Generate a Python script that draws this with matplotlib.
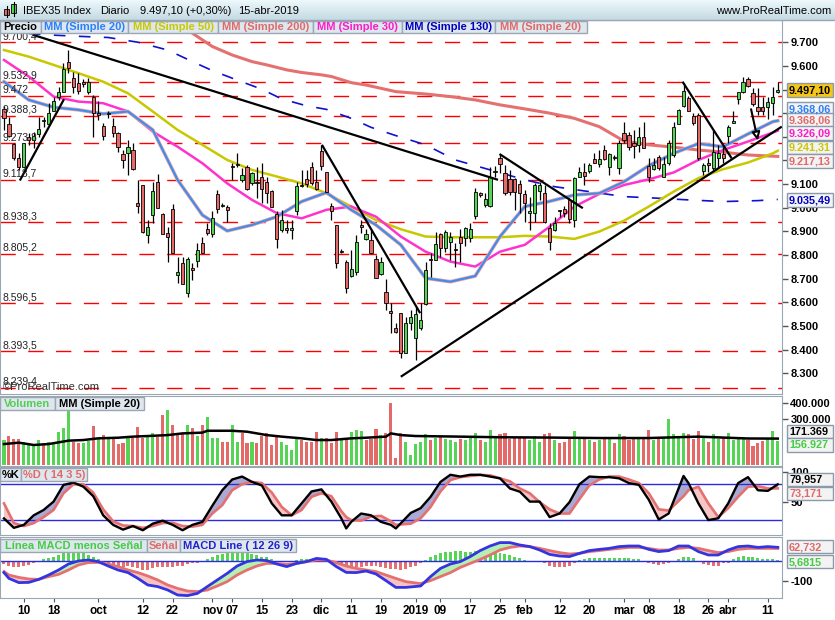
import numpy as np
import pandas as pd
import matplotlib
matplotlib.use('Agg')
import matplotlib.pyplot as plt
from matplotlib.patches import Rectangle
from matplotlib.colors import LinearSegmentedColormap

plt.rcParams['font.family'] = ['Liberation Sans', 'DejaVu Sans']

# ---------------- datos ----------------
festivos = ['2018-12-25', '2018-12-26', '2019-01-01']
dias = pd.bdate_range('2018-09-04', '2019-04-15')
dias = dias[~dias.isin(pd.to_datetime(festivos))]

apertura = [9416, 9353, 9268, 9209, 9174, 9301, 9287, 9312, 9366, 9353,
            9407, 9470, 9491, 9615, 9550, 9526, 9529, 9491, 9467, 9402,
            9347, 9400, 9347, 9315, 9226, 9230, 9244, 9019, 9095, 8885,
            8969, 9110, 8972, 8892, 8995, 8716, 8765, 8638, 8744, 8775,
            8850, 8912, 8889, 9057, 9008, 9002, 9177, 9181, 9118, 9174,
            9103, 9110, 9132, 9110, 9072, 8974, 8906, 8916, 8906, 8984,
            9096, 9120, 9174, 9110, 9240, 9150, 9008, 8927, 8818, 8769,
            8711, 8726, 8927, 8868, 8864, 8782, 8719, 8645, 8561, 8490,
            8554, 8384, 8511, 8448, 8493, 8593, 8782, 8779, 8888, 8829,
            8854, 8821, 8875, 8871, 8871, 8965, 9064, 9012, 9009, 9151,
            9209, 9146, 9120, 9120, 9101, 9058, 8979, 8979, 9072, 9061,
            8916, 8906, 8990, 8993, 9033, 8948, 9132, 9153, 9157, 9205,
            9185, 9242, 9171, 9216, 9167, 9315, 9308, 9275, 9266, 9301,
            9177, 9163, 9213, 9132, 9188, 9223, 9354, 9431, 9466, 9388,
            9392, 9157, 9191, 9167, 9209, 9226, 9304, 9360, 9459, 9488,
            9543, 9487, 9428, 9425, 9425, 9442, 9490]
maximo = [9431, 9383, 9273, 9230, 9275, 9315, 9322, 9385, 9385, 9442,
          9470, 9512, 9611, 9667, 9576, 9569, 9543, 9548, 9477, 9453,
          9357, 9407, 9378, 9322, 9244, 9287, 9273, 9118, 9096, 8948,
          9110, 9143, 8977, 8920, 9016, 8793, 8793, 8793, 8765, 8850,
          8878, 8934, 8984, 9075, 9019, 9012, 9188, 9233, 9167, 9181,
          9153, 9174, 9191, 9132, 9075, 8984, 8991, 8948, 8948, 9110,
          9160, 9160, 9195, 9160, 9266, 9153, 9019, 8927, 8825, 8779,
          8821, 8885, 8948, 8909, 8906, 8800, 8793, 8697, 8596, 8511,
          8556, 8539, 8568, 8582, 8596, 8772, 8807, 8899, 8895, 8906,
          8899, 8850, 8909, 8920, 8937, 9082, 9068, 9061, 9174, 9177,
          9227, 9181, 9160, 9125, 9118, 9075, 9047, 9106, 9110, 9096,
          8934, 8962, 8991, 9008, 9040, 9132, 9174, 9188, 9191, 9230,
          9242, 9266, 9230, 9223, 9287, 9364, 9322, 9329, 9343, 9364,
          9209, 9209, 9223, 9216, 9287, 9364, 9416, 9529, 9473, 9400,
          9400, 9188, 9209, 9329, 9266, 9258, 9350, 9407, 9491, 9552,
          9555, 9505, 9505, 9470, 9470, 9509, 9533]
minimo = [9329, 9301, 9200, 9160, 9167, 9266, 9252, 9301, 9343, 9350,
          9407, 9456, 9491, 9569, 9484, 9480, 9512, 9480, 9301, 9371,
          9287, 9378, 9301, 9237, 9167, 9139, 9160, 8977, 8892, 8850,
          8934, 8998, 8889, 8772, 8807, 8680, 8678, 8624, 8695, 8751,
          8807, 8885, 8878, 8977, 9005, 8941, 9118, 9171, 9110, 9075,
          9096, 9040, 9019, 9019, 9005, 8829, 8899, 8892, 8867, 8969,
          9089, 9089, 9096, 9075, 9160, 9065, 8948, 8744, 8808, 8641,
          8709, 8716, 8892, 8864, 8804, 8702, 8716, 8568, 8469, 8469,
          8363, 8384, 8483, 8356, 8483, 8589, 8709, 8779, 8793, 8814,
          8779, 8751, 8772, 8836, 8857, 8951, 9047, 9005, 9005, 9132,
          9146, 9054, 9054, 8991, 8977, 8941, 8906, 8941, 9033, 8934,
          8821, 8903, 8962, 8962, 8937, 8917, 9132, 9096, 9146, 9188,
          9174, 9202, 9139, 9202, 9143, 9273, 9244, 9209, 9237, 9252,
          9110, 9160, 9160, 9132, 9181, 9216, 9354, 9428, 9407, 9350,
          9202, 9139, 9153, 9160, 9167, 9188, 9273, 9357, 9439, 9484,
          9512, 9431, 9392, 9392, 9374, 9392, 9484]
cierre = [9378, 9304, 9209, 9171, 9273, 9287, 9304, 9332, 9369, 9402,
          9452, 9491, 9586, 9590, 9512, 9494, 9526, 9533, 9400, 9392,
          9304, 9398, 9318, 9256, 9202, 9258, 9163, 9008, 8899, 8920,
          9072, 8998, 8889, 8878, 8807, 8727, 8678, 8783, 8737, 8819,
          8807, 8892, 8955, 8995, 9012, 8989, 9174, 9184, 9139, 9078,
          9146, 9103, 9078, 9061, 9005, 8867, 8948, 8906, 8916, 9093,
          9093, 9101, 9103, 9078, 9177, 9065, 8984, 8765, 8814, 8659,
          8740, 8854, 8920, 8889, 8810, 8702, 8769, 8596, 8554, 8476,
          8384, 8511, 8537, 8551, 8525, 8737, 8779, 8845, 8829, 8896,
          8875, 8823, 8850, 8913, 8909, 9068, 9054, 9036, 9132, 9153,
          9185, 9061, 9068, 9068, 9061, 9019, 8984, 9096, 9096, 8938,
          8857, 8937, 8987, 8979, 8951, 9125, 9153, 9136, 9181, 9191,
          9205, 9205, 9227, 9209, 9275, 9287, 9258, 9261, 9298, 9252,
          9132, 9181, 9167, 9185, 9273, 9343, 9414, 9494, 9409, 9357,
          9209, 9181, 9181, 9237, 9233, 9209, 9343, 9367, 9488, 9533,
          9515, 9438, 9407, 9407, 9446, 9470, 9497]

# medias moviles (indice de vela, valor)
mm_idx = [0, 5, 10, 15, 20, 25, 30, 35, 40, 45, 50, 55, 60, 65, 70, 75,
          80, 85, 90, 95, 100, 105, 110, 115, 120, 125, 130, 135, 140, 145, 150, 155, 156]
mm20 = [9533, 9456, 9425, 9414, 9397, 9407, 9329, 9118, 8969, 8902, 8927, 8962, 9026, 9064, 8991, 8927,
        8843, 8702, 8687, 8711, 8878, 9005, 9027, 9054, 9061, 9110, 9178, 9230, 9271, 9258, 9312, 9364, 9368]
mm30 = [9625, 9555, 9470, 9449, 9442, 9407, 9322, 9258, 9188, 9103, 9033, 8977, 8955, 8991, 9005, 8962,
        8878, 8814, 8772, 8751, 8814, 8843, 8920, 9005, 9058, 9096, 9120, 9149, 9202, 9244, 9280, 9318, 9326]
mm50 = [9667, 9639, 9604, 9569, 9533, 9484, 9407, 9329, 9266, 9202, 9160, 9132, 9103, 9061, 9005, 8948,
        8909, 8878, 8875, 8875, 8875, 8881, 8878, 8868, 8899, 8945, 9005, 9068, 9125, 9163, 9191, 9230, 9241]
mm200_idx = [0, 20, 37, 42, 46, 50, 53, 57, 60, 64, 66, 70, 73, 79, 85, 90, 95, 100, 105, 110,
             115, 120, 125, 130, 135, 140, 145, 150, 156]
mm200 = [10050, 9900, 9752, 9682, 9646, 9618, 9604, 9583, 9572, 9562, 9555, 9529, 9519, 9491, 9481, 9470,
         9456, 9435, 9418, 9400, 9378, 9343, 9282, 9266, 9256, 9244, 9235, 9223, 9217]
mm130_idx = [0, 8, 15, 21, 27, 33, 38, 42, 47, 52, 56, 61, 65, 70, 74, 79, 85, 91, 98, 105, 111, 118,
             125, 132, 138, 145, 152, 156]
mm130 = [9745, 9732, 9725, 9720, 9700, 9667, 9618, 9580, 9540, 9501, 9460, 9431, 9416, 9378, 9340, 9305,
         9266, 9202, 9160, 9118, 9089, 9068, 9047, 9040, 9033, 9026, 9030, 9035]

niveles = [9700.4, 9532.9, 9472.0, 9388.3, 9273.8, 9118.7, 8938.3, 8805.2, 8596.5, 8393.5, 8239.4]
niveles_txt = ['9.700,4', '9.532,9', '9.472', '9.388,3', '9.273,8', '9.118,7', '8.938,3', '8.805,2',
               '8.596,5', '8.393,5', '8.239,4']

# lineas dibujadas a mano (indice, precio)
directrices = [((5.85, 9731), (99.6, 9118)),
               ((3.2, 9115), (12.1, 9459)),
               ((64.1, 9266), (83.9, 8554)),
               ((80.0, 8285), (156.8, 9343)),
               ((99.9, 9227), (116.7, 8998)),
               ((136.8, 9533), (146.7, 9209))]
flecha = ((150.5, 9428), (152.1, 9273))

volumen = [162000, 188000, 168000, 166000, 151000, 136000, 130000, 162000, 140000, 147000,
           140000, 214000, 238000, 352000, 151000, 145000, 145000, 158000, 253000, 173000,
           194000, 166000, 177000, 136000, 140000, 173000, 173000, 248000, 177000, 188000,
           205000, 184000, 324000, 356000, 259000, 194000, 205000, 259000, 238000, 188000,
           259000, 313000, 177000, 173000, 147000, 147000, 259000, 147000, 205000, 140000,
           151000, 145000, 188000, 205000, 130000, 188000, 147000, 130000, 97000, 177000,
           162000, 151000, 147000, 212000, 173000, 173000, 140000, 216000, 162000, 173000,
           212000, 227000, 222000, 162000, 166000, 231000, 194000, 210000, 404000, 43000,
           205000, 147000, 65000, 136000,
           150000, 200000, 160000, 175000, 190000, 170000, 165000, 150000, 170000, 160000,
           175000, 210000, 160000, 150000, 230000, 190000, 200000, 210000, 170000, 180000,
           175000, 180000, 160000, 190000, 150000, 200000, 210000, 160000, 140000, 150000,
           170000, 220000, 170000, 180000, 160000, 150000, 160000, 170000, 180000, 140000,
           200000, 190000, 160000, 170000, 175000, 180000, 230000, 160000, 170000, 180000,
           300000, 200000, 190000, 210000, 200000, 170000, 220000, 190000, 150000, 200000,
           170000, 175000, 210000, 162000, 166000, 173000, 162000, 123000, 140000, 158000,
           173000, 220000, 156927]
vol_color = ('grrrggggrggggg' 'rrggrgrgrrrgrrrggrrgrrrgrgrgggrrggrrgrrrrrggggrrrrgrrrgrgggrrrgrrrrggg')
vol_mm_idx = [0, 3, 6, 9, 13, 16, 19, 23, 26, 29, 33, 36, 40, 41, 46, 49, 53, 56, 60, 63, 66, 70, 73, 77,
              78, 80, 83, 90, 100, 110, 120, 130, 140, 150, 156]
vol_mm = [136000, 145000, 130000, 136000, 158000, 162000, 173000, 177000, 184000, 188000, 194000, 205000,
          210000, 222000, 222000, 216000, 194000, 184000, 173000, 162000, 162000, 173000, 177000, 184000,
          205000, 194000, 188000, 185000, 180000, 178000, 175000, 175000, 184000, 172000, 171369]

est_idx = [0, 2, 4, 6, 8, 10, 12, 14, 16, 18, 20, 22, 24, 26, 28, 30, 32, 34, 36, 38, 40, 42, 44, 46,
           48, 50, 52, 54, 56, 58, 60, 62, 64, 66, 68, 69, 70, 72, 74, 76, 78, 79, 82, 84, 86, 88, 90,
           92, 94, 96, 98, 100, 102, 104, 106, 108, 110, 112, 114, 116, 118, 120, 122, 124, 126, 128,
           130, 132, 134, 137, 138, 140, 142, 144, 146, 148, 150, 152, 154, 156]
est_k = [22.8, 7, 12, 28, 37, 51, 79, 83, 76, 60, 28, 12, 4, 10, 3, 14, 19, 12, 3, 12, 17, 44, 70, 88,
         93, 84, 78, 48, 28, 28, 48, 68, 71.5, 51, 23, 6, 17, 31, 28, 17, 12, 6, 32, 40, 59, 84, 96,
         93, 96, 96, 93, 90, 73, 67.6, 51, 51, 25, 31, 50, 80, 93, 92, 92, 90, 82, 79,
         54, 21, 31, 94, 82, 48, 20, 23, 48, 82, 92, 70, 69, 79.957]
est_d = [48, 15, 10, 15, 25, 37, 65, 80, 80, 66, 38, 18, 11, 10, 7, 10, 15, 15.5, 10, 9, 12, 31, 45, 70,
         80, 84, 82, 66, 42, 28, 37, 59, 65, 60, 35, 25, 20, 19, 26, 27, 18, 12, 14, 23, 42, 68, 87,
         92, 94, 95.6, 95, 90, 85, 73, 65, 50, 38, 31, 31, 55, 78, 88, 93, 93, 88, 82,
         65, 38, 36, 60, 70, 76, 48, 25, 40, 59, 76, 77, 73, 73.171]

macd_idx = [0, 1, 3, 5, 7, 9, 11, 13, 15, 17, 19, 21, 23, 25, 27, 29, 31, 33, 35, 37, 39, 41, 43, 45,
            47, 49, 51, 53, 55, 57, 59, 61, 63, 65, 67, 69, 71, 73, 75, 77, 79, 81, 84, 86, 88, 90, 92,
            94, 96, 98, 100, 102, 104, 106, 108, 110, 112, 114, 116, 118, 120, 122, 124, 126, 128, 130,
            132, 134, 136, 138, 140, 142, 144, 146, 148, 150, 152, 154, 156]
macd_linea = [-58, -87, -108, -107, -92, -70, -45, -15, 0, 5, -3, -25, -45, -58, -87, -120, -128, -145,
              -170, -173, -162, -128, -95, -62, -25, -3, 5, 2, -15, -28, -12, -3, 13, 8, -28, -57, -58,
              -50, -65, -98, -132, -132, -125, -78, -37, -15, -3, 22, 52, 75, 92, 92, 80, 72, 55, 33,
              25, 22, 38, 52, 58, 63, 72, 75, 75, 58, 47, 52, 75, 75, 47, 30, 30, 55, 72, 75, 68, 72, 68.4]
macd_senal = [-53, -70, -82, -90, -92, -78, -67, -45, -20, -8, -7, -15, -28, -45, -58, -75, -95, -120,
              -137, -150, -153, -145, -125, -103, -70, -45, -25, -12, -12, -17, -12, -3, 5, 5, -8, -25,
              -37, -45, -53, -70, -87, -103, -113, -98, -78, -58, -32, -12, 8, 30, 55, 68, 75, 72, 63,
              52, 42, 35, 38, 47, 52, 58, 63, 68, 68, 63, 55, 55, 63, 68, 63, 52, 42, 47, 58, 63, 63,
              63, 62.732]
macd_hist = [-15, -25, -28, -32, -25, -20, -12, -5, 8, 15, 22, 30, 38, 42, 42, 38, 38, 30, 22, 10,
             -8, -15, -25, -25, -28, -25, -28, -37, -45, -45, -37, -32, -28, -32, -28, -25, -25, -15, -12, -8,
             -3, 12, 18, 30, 35, 38, 42, 42, 42, 38, 35, 30, 22, 18, 8, -3, -5, -5, 2, 5,
             8, 8, 10, 10, 13, 8, 2, -12, -25, -37, -37, -28, -28, -25, -25, -25, -32, -37, -42, -42,
             -45, -42, -32, -25, -12, 5, 18, 30, 42, 47, 47, 52, 52, 47, 47, 52, 52, 47, 47, 47,
             42, 35, 30, 22, 13, 5, -3, 0, 0, -8, -25, -28, -28, -28, -25, -8, 5, 8, 13, 13,
             13, 13, 13, 13, 13, 13, 13, 8, 8, 0, -8, -15, -20, -15, -8, 0, 8, 18, 18, 13,
             -5, -15, -20, -25, -25, -12, -8, 8, 22, 25, 22, 18, 13, 8, 8, 8, 5.68]

etiquetas_x = [('2018-09-10', '10'), ('2018-09-18', '18'), ('2018-10-01', 'oct'), ('2018-10-12', '12'),
               ('2018-10-22', '22'), ('2018-11-01', 'nov'), ('2018-11-07', '07'), ('2018-11-15', '15'),
               ('2018-11-23', '23'), ('2018-12-03', 'dic'), ('2018-12-11', '11'), ('2018-12-19', '19'),
               ('2019-01-02', '2019'), ('2019-01-09', '09'), ('2019-01-17', '17'), ('2019-01-25', '25'),
               ('2019-02-01', 'feb'), ('2019-02-12', '12'), ('2019-02-20', '20'), ('2019-03-01', 'mar'),
               ('2019-03-08', '08'), ('2019-03-18', '18'), ('2019-03-26', '26'), ('2019-04-01', 'abr'),
               ('2019-04-11', '11')]

# ---------------- figura ----------------
VERDE = '#55d455'
ROJO = '#e46a6a'
SALMON = '#e47070'
BORDE = '#9aa7b3'
W, H = 835, 620
fig = plt.figure(figsize=(W / 100, H / 100), dpi=100)


def panel(y0, y1):
    ax = fig.add_axes([0.0, 1 - y1 / H, 782 / W, (y1 - y0) / H])
    ax.set_xlim(-0.8, 156.85)
    ax.yaxis.tick_right()
    ax.tick_params(axis='y', length=4, width=1, color='#555555', pad=2, labelsize=8)
    ax.tick_params(axis='x', bottom=False, labelbottom=False)
    for s in ax.spines.values():
        s.set_color(BORDE)
    return ax


def negrita(ax):
    for t in ax.get_yticklabels() + ax.get_xticklabels():
        t.set_fontweight('bold')


x = np.arange(len(cierre))
o = np.array(apertura, float)
c = np.array(cierre, float)
sube = c >= o
col_vela = np.where(sube, VERDE, ROJO)

# --- precio ---
ax_p = panel(20, 394)
ax_p.set_ylim(8212, 9794)
for nv, tx in zip(niveles, niveles_txt):
    ax_p.axhline(nv, color='red', lw=1, dashes=(11, 9), zorder=1)
    ax_p.text(0.003, nv + 4, tx, transform=ax_p.get_yaxis_transform(), fontsize=7.5,
              color='#222222', va='bottom', zorder=6)
ax_p.text(0.004, 8243, '©ProRealTime.com', transform=ax_p.get_yaxis_transform(), fontsize=8,
          color='#333333', va='center', zorder=6)

ax_p.plot(mm200_idx, mm200, color=SALMON, lw=2.2, zorder=2)
ax_p.plot(mm130_idx, mm130, color='#1010d0', lw=1.2, dashes=(7, 8), zorder=2)
ax_p.plot(mm_idx, mm50, color='#c8c800', lw=1.8, zorder=2)
ax_p.plot(mm_idx, mm30, color='#ff33cc', lw=1.8, zorder=2)
ax_p.plot(mm_idx, mm20, color='#e8a0a0', lw=2.6, zorder=2)
ax_p.plot(mm_idx, mm20, color='#3b8ef0', lw=1.5, zorder=2)

ax_p.vlines(x, minimo, maximo, color='black', lw=0.9, zorder=3)
alto = np.maximum(np.abs(c - o), 5)
base = np.where(np.abs(c - o) < 5, (o + c) / 2 - 2.5, np.minimum(o, c))
ax_p.bar(x, alto, bottom=base, width=0.64, color=col_vela, edgecolor='black', lw=0.6, zorder=4)

for (x0, y0), (x1, y1) in directrices:
    ax_p.plot([x0, x1], [y0, y1], color='black', lw=1.6, zorder=5, solid_capstyle='butt')
ax_p.annotate('', xy=flecha[1], xytext=flecha[0],
              arrowprops=dict(arrowstyle='-|>', color='black', lw=1.5, fc='white',
                              mutation_scale=12), zorder=5)
precios_tick = list(range(8300, 9800, 100))
ax_p.set_yticks(precios_tick)
# las etiquetas tapadas por los recuadros de valores no se ven en el original
ax_p.set_yticklabels(['' if v in (9200, 9300, 9400, 9500) else f'{v:,}'.replace(',', '.')
                      for v in precios_tick])
negrita(ax_p)

# --- volumen ---
ax_v = panel(396, 466)
ax_v.set_ylim(-6000, 447000)
ax_v.bar(x, volumen, width=0.62, color=[VERDE if ch == 'g' else ROJO for ch in vol_color] +
         [VERDE if s else ROJO for s in sube[len(vol_color):]], zorder=2)
ax_v.plot(vol_mm_idx, vol_mm, color='black', lw=1.8, zorder=3)
ax_v.set_yticks([300000, 400000])
ax_v.set_yticklabels(['300.000', '400.000'])
negrita(ax_v)

# --- estocastico ---
ax_s = panel(467, 535)
ax_s.set_ylim(-5, 109)
k = np.array(est_k)
d = np.array(est_d)
ax_s.fill_between(est_idx, k, d, where=k >= d, interpolate=True, color='#a9a9d4', lw=0, zorder=1)
ax_s.fill_between(est_idx, k, d, where=k < d, interpolate=True, color='#f6c6c6', lw=0, zorder=1)
ax_s.axhline(80, color='#2a2ae0', lw=1, zorder=2)
ax_s.axhline(20, color='#2a2ae0', lw=1, zorder=2)
ax_s.plot(est_idx, d, color=SALMON, lw=1.9, zorder=3)
ax_s.plot(est_idx, k, color='black', lw=1.7, zorder=4)
ax_s.set_yticks([50, 100])
ax_s.set_yticklabels(['50', '100'])
negrita(ax_s)

# --- MACD ---
ax_m = panel(537, 598)
ax_m.set_ylim(-185, 120)
hist = np.array(macd_hist)
ax_m.bar(x, hist, width=0.6, color=np.where(hist >= 0, '#55d455', SALMON), zorder=1)
ax_m.axhline(0, color='#2a2ae0', lw=1, zorder=2)
ml = np.array(macd_linea)
ms = np.array(macd_senal)
ax_m.fill_between(macd_idx, ml, ms, where=ml >= ms, interpolate=True, color='#b4f0b4', lw=0, zorder=2)
ax_m.fill_between(macd_idx, ml, ms, where=ml < ms, interpolate=True, color='#f6c2c2', lw=0, zorder=2)
ax_m.plot(macd_idx, ms, color=SALMON, lw=2, zorder=3)
ax_m.plot(macd_idx, ml, color='#3434e0', lw=2, zorder=4)
ax_m.set_yticks([-100])
ax_m.set_yticklabels(['-100'])
pos = {str(f.date()): i for i, f in enumerate(dias)}
ax_m.set_xticks([pos[f] for f, _ in etiquetas_x])
ax_m.set_xticklabels([t for _, t in etiquetas_x])
ax_m.tick_params(axis='x', bottom=True, labelbottom=True, length=3, color='#555555', labelsize=8.5, pad=2)
negrita(ax_m)

# ---------------- capa de rotulos (pixeles) ----------------
ov = fig.add_axes([0, 0, 1, 1], zorder=10)
ov.set_xlim(0, W)
ov.set_ylim(H, 0)
ov.axis('off')
ov.patch.set_alpha(0)

cab = LinearSegmentedColormap.from_list('cab', ['#ecf8fb', '#c5dae3'])
ov.imshow(np.linspace(0, 1, 20).reshape(-1, 1), extent=(0, W, 20, 0), cmap=cab, aspect='auto', zorder=0)
ov.plot([0, W], [20, 20], color=BORDE, lw=1)
# icono de velas
ov.plot([6.5, 6.5], [6, 17], color='black', lw=0.8)
ov.add_patch(Rectangle((4, 9), 5, 6, fc=ROJO, ec='black', lw=0.6))
ov.plot([13.5, 13.5], [2, 16], color='black', lw=0.8)
ov.add_patch(Rectangle((11, 4), 5, 9, fc=VERDE, ec='black', lw=0.6))
for xt, tx in [(23, 'IBEX35 Index'), (100, 'Diario'), (140, '9.497,10 (+0,30%)'), (238, '15-abr-2019')]:
    ov.text(xt, 11, tx, fontsize=8, va='center', color='black')
ov.text(831, 11, 'www.ProRealTime.com', fontsize=8, va='center', ha='right', color='black')


def leyenda(items, y0, y1):
    for tx, col, x0, x1 in items:
        ov.add_patch(Rectangle((x0, y0), x1 - x0, y1 - y0, fc='#dfe7ee', ec=BORDE, lw=1, zorder=3))
        ov.text((x0 + x1) / 2, (y0 + y1) / 2 + 0.5, tx, color=col, fontsize=8, fontweight='bold',
                ha='center', va='center', zorder=4)


leyenda([('Precio', 'black', 0, 40.7), ('MM (Simple 20)', '#2a7fff', 40.7, 128.3),
         ('MM (Simple 50)', '#c8c800', 128.3, 218.3), ('MM (Simple 200)', '#e06a6a', 218.3, 313.3),
         ('MM (Simple 30)', '#ff1acb', 313.3, 401.7), ('MM (Simple 130)', '#0000c0', 401.7, 495),
         ('MM (Simple 20)', '#e06a6a', 495, 586.7)], 20.7, 33.3)
leyenda([('Volumen', '#55cc55', 0, 55), ('MM (Simple 20)', 'black', 55, 144)], 396.7, 410.3)
leyenda([('%K', 'black', 0, 20.7), ('%D ( 14 3 5)', '#e06a6a', 20.7, 86.7)], 468, 480.7)
leyenda([('Línea MACD menos Señal', '#44cc44', 0, 146.7), ('Señal', '#e06a6a', 146.7, 180),
         ('MACD Line ( 12 26 9)', '#2222cc', 180, 296)], 539, 551.7)


def valor(yc, tx, col, fondo='#f3f3f3'):
    ov.add_patch(Rectangle((786.7, yc - 6.6), 46.6, 13.2, fc=fondo, ec='#8a9aaa', lw=1, zorder=5))
    ov.text(789, yc + 0.5, tx, color=col, fontsize=7.8, fontweight='bold', va='center', zorder=6)


valor(90, '9.497,10', 'black', '#f5c518')
valor(108.5, '9.368,06', '#2a7fff')
valor(120, '9.368,06', '#e06a6a')
valor(133, '9.326,09', '#ff1acb')
valor(147.5, '9.241,31', '#c8c800')
valor(161, '9.217,13', '#e06a6a')
valor(200, '9.035,49', '#0000c0')
valor(431.7, '171.369', 'black')
valor(445, '156.927', '#44cc44')
valor(479.3, '79,957', 'black')
valor(493.3, '73,171', '#e06a6a')
valor(546.7, '62,732', '#e06a6a')
valor(561.7, '5,6815', '#44cc44')

fig.savefig('out.png', dpi=100)
